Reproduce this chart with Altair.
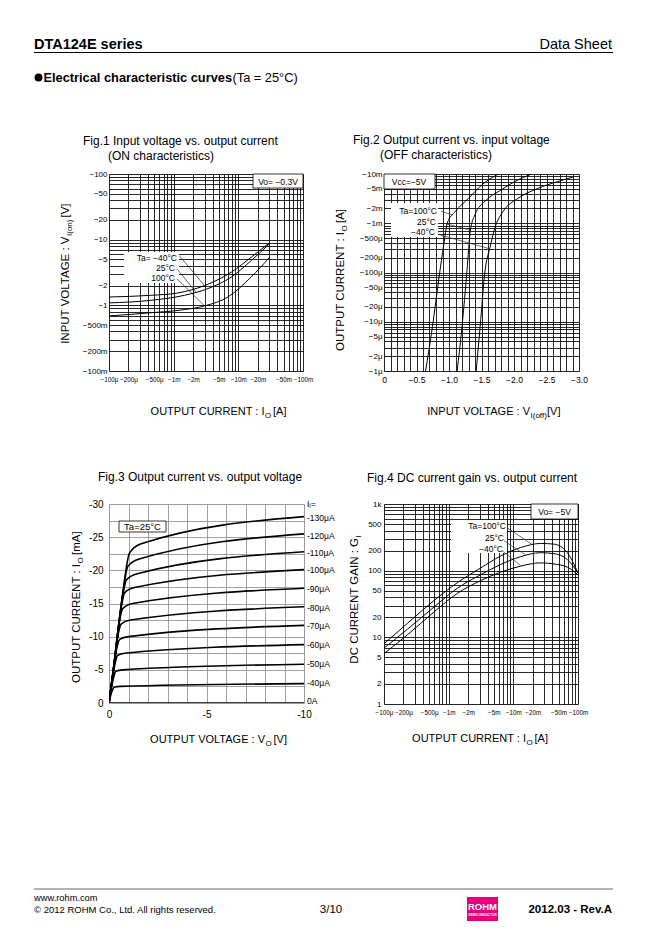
import altair as alt
import pandas as pd

FONT = "Liberation Sans, Arial, Helvetica, sans-serif"
NARROW = "Liberation Sans Narrow, Liberation Sans, Arial, sans-serif"

# ---------------- data (magnitudes; the sheet shows them as negative) ----------------
# Fig.1  |Vi(on)| [V] vs |Io| [A]
f1_I_m40 = [1e-4, 4.4e-4, 1.15e-3, 3.0e-3, 7.8e-3, 1.58e-2, 3.05e-2]
f1_V_m40 = [1.34, 1.42, 1.54, 2.0, 3.2, 5.4, 9.0]
f1_I_25 = [1e-4, 4.4e-4, 1.46e-3, 3.4e-3, 7.8e-3, 1.58e-2, 3.05e-2]
f1_V_25 = [1.09, 1.19, 1.42, 1.8, 2.7, 4.8, 8.7]
f1_I_100 = [1e-4, 4.4e-4, 1.46e-3, 3.0e-3, 6.9e-3, 1.58e-2, 3.05e-2]
f1_V_100 = [0.69, 0.77, 0.86, 0.98, 1.34, 2.7, 5.4]

# Fig.2  |Io| [A] vs |Vi(off)| [V]
f2_V_100 = [0.64, 0.745, 0.846, 0.92, 0.973, 1.10, 1.30, 1.505, 1.758]
f2_I_100 = [1e-6, 7.9e-6, 7.9e-5, 3.7e-4, 1.0e-3, 1.75e-3, 3.2e-3, 6.0e-3, 1e-2]
f2_V_25 = [1.125, 1.20, 1.277, 1.327, 1.40, 1.555, 1.808, 2.01, 2.275]
f2_I_25 = [1e-6, 7.9e-6, 1.1e-4, 6.9e-4, 1.5e-3, 2.8e-3, 4.8e-3, 7.0e-3, 1e-2]
f2_V_m40 = [1.418, 1.479, 1.555, 1.63, 1.707, 1.834, 2.062, 2.366, 2.67, 2.922]
f2_I_m40 = [1e-6, 7.9e-6, 1.1e-4, 3.2e-4, 8.1e-4, 1.75e-3, 3.2e-3, 5.1e-3, 7.0e-3, 8.8e-3]

# Fig.3  |Io| [mA] vs |Vo| [V] for base currents
f3_ib = ["-40μA", "-50μA", "-60μA", "-70μA", "-80μA", "-90μA", "-100μA", "-110μA", "-120μA", "-130μA"]
f3_V = [
    [0, 0.1, 0.2, 0.3, 0.6, 10],
    [0, 0.12, 0.25, 0.35, 0.7, 10],
    [0, 0.15, 0.3, 0.45, 0.8, 10],
    [0, 0.18, 0.37, 0.55, 1.0, 10],
    [0, 0.2, 0.42, 0.62, 1.1, 10],
    [0, 0.22, 0.48, 0.7, 1.2, 10],
    [0, 0.25, 0.55, 0.8, 1.3, 10],
    [0, 0.27, 0.6, 0.9, 1.45, 10],
    [0, 0.3, 0.65, 0.97, 1.55, 10],
    [0, 0.32, 0.7, 1.05, 1.65, 10],
]
f3_I = [
    [0, 1.3, 2.1, 2.4, 2.5, 2.92],
    [0, 2.2, 4.0, 4.8, 5.0, 5.85],
    [0, 3.0, 5.8, 7.2, 7.5, 8.8],
    [0, 3.9, 7.8, 9.6, 10.0, 11.7],
    [0, 4.5, 9.5, 11.9, 12.5, 14.5],
    [0, 5.0, 11.3, 14.2, 15.0, 17.3],
    [0, 5.6, 12.9, 16.6, 17.4, 20.1],
    [0, 6.0, 14.2, 18.6, 19.5, 22.8],
    [0, 6.6, 15.3, 20.6, 21.7, 25.5],
    [0, 7.1, 16.4, 22.6, 24.0, 28.1],
]
f3_zero_V = [0, 10]
f3_zero_I = [0, 0]

# Fig.4  DC current gain vs |Io| [A]
f4_I = [1e-4, 2.3e-4, 5.93e-4, 1.36e-3, 3.13e-3, 6.37e-3, 1.30e-2, 2.65e-2, 4.26e-2, 6.84e-2, 0.1]
f4_G_100 = [8.0, 16.2, 35.6, 66, 110, 166, 222, 256, 250, 186, 92]
f4_G_25 = [6.9, 13.2, 28.5, 54.5, 87, 124, 162, 186, 180, 147, 92]
f4_G_m40 = [5.7, 10.9, 24, 45.6, 71, 95, 117, 131, 126, 113, 87]

# tick labels
lab_cur_x = ["−100μ", "−200μ", "−500μ", "−1m", "−2m", "−5m", "−10m", "−20m", "−50m", "−100m"]
lab_cur_x_v = ["1e-4", "2e-4", "5e-4", "1e-3", "2e-3", "5e-3", "1e-2", "2e-2", "5e-2", "1e-1"]
lab_f1_y = ["−100m", "−200m", "−500m", "−1", "−2", "−5", "−10", "−20", "−50", "−100"]
lab_f1_y_v = ["1e-1", "2e-1", "5e-1", "1e0", "2e0", "5e0", "1e1", "2e1", "5e1", "1e2"]
lab_f2_y = ["−1μ", "−2μ", "−5μ", "−10μ", "−20μ", "−50μ", "−100μ", "−200μ", "−500μ", "−1m", "−2m", "−5m", "−10m"]
lab_f2_y_v = ["1e-6", "2e-6", "5e-6", "1e-5", "2e-5", "5e-5", "1e-4", "2e-4", "5e-4", "1e-3", "2e-3", "5e-3", "1e-2"]
lab_f2_x = ["0", "−0.5", "−1.0", "−1.5", "−2.0", "−2.5", "−3.0"]
lab_f2_x_v = [0.0, 0.5, 1.0, 1.5, 2.0, 2.5, 3.0]
lab_f3_x = ["0", "-5", "-10"]
lab_f3_x_v = [0, 5, 10]
lab_f3_y = ["0", "-5", "-10", "-15", "-20", "-25", "-30"]
lab_f3_y_v = [0, 5, 10, 15, 20, 25, 30]
lab_f4_y = ["1", "2", "5", "10", "20", "50", "100", "200", "500", "1k"]
lab_f4_y_v = ["1e0", "2e0", "5e0", "1e1", "2e1", "5e1", "1e2", "2e2", "5e2", "1e3"]
f3_right = ["Iᵢ=", "-130μA", "-120μA", "-110μA", "-100μA", "-90μA", "-80μA", "-70μA", "-60μA", "-50μA", "-40μA", "0A"]

# ---------------- layout (page pixels) ----------------
C1 = (108, 173); C2 = (383, 173); C3 = (108, 503); C4 = (383, 503)
TT = 11      # horizontal axis-title size
TY = 11.5    # vertical axis-title size
TS = 8       # subscript size


def one():
    return alt.Chart(pd.DataFrame({"k": [0]}))


def txt(o, s, px, py, size=10, weight="normal", align="left", baseline="alphabetic",
        angle=0, font=FONT, color="black"):
    kw = dict(text=s, fontSize=size, fontWeight=weight, align=align, baseline=baseline,
              font=font, color=color)
    if angle:
        kw["angle"] = angle
    return one().mark_text(**kw).encode(x=alt.value(px - o[0]), y=alt.value(py - o[1]))


def box(o, x1, y1, x2, y2, fill="white", stroke=None, sw=0.8):
    kw = dict(fill=fill)
    if stroke:
        kw.update(stroke=stroke, strokeWidth=sw)
    return one().mark_rect(**kw).encode(x=alt.value(x1 - o[0]), x2=alt.value(x2 - o[0]),
                                        y=alt.value(y1 - o[1]), y2=alt.value(y2 - o[1]))


def dot(o, px, py, area):
    return one().mark_circle(size=area, color="black", opacity=1).encode(
        x=alt.value(px - o[0]), y=alt.value(py - o[1]))


def hline(o, x1, x2, py, color="black", sw=1.0):
    return one().mark_rule(color=color, strokeWidth=sw).encode(
        x=alt.value(x1 - o[0]), x2=alt.value(x2 - o[0]), y=alt.value(py - o[1]))


def log_grid(lo, hi):
    vals = []
    for k in range(lo, hi):
        for m in range(1, 10):
            vals.append(float(f"{m}e{k}"))
    vals.append(float(f"1e{hi}"))
    return vals


def lbl_expr(vals, labs):
    e = "''"
    for v, s in reversed(list(zip(vals, labs))):
        e = f"datum.value == {repr(float(v))} ? '{s}' : {e}"
    return e


def axis(values, lvals, labs, size, font, pad, gcol, gw, orient):
    return alt.Axis(values=values, labelExpr=lbl_expr(lvals, labs), ticks=False, domain=False,
                    grid=True, gridColor=gcol, gridWidth=gw, gridOpacity=1, labelFontSize=size,
                    labelFont=font, labelColor="black", labelPadding=pad, labelOverlap=False,
                    labelFlush=False, labelBound=False, title=None, orient=orient)


def curves_df(series):
    rows = []
    for name, xs, ys in series:
        for a, b in zip(xs, ys):
            rows.append({"x": a, "y": b, "s": name})
    return pd.DataFrame(rows)


def leaders_df(segs):
    return pd.DataFrame([{"xa": a, "ya": b, "xb": c, "yb": d} for a, b, c, d in segs])


GRID = "#111111"

# ---------------- Fig.1 ----------------
X1 = dict(scale=alt.Scale(type="log", domain=[1e-4, 1e-1], nice=False),
          axis=axis(log_grid(-4, -1), lab_cur_x_v, lab_cur_x, 6.3, NARROW, 5, GRID, 0.9, "bottom"),
          title=None)
Y1 = dict(scale=alt.Scale(type="log", domain=[0.1, 100], nice=False),
          axis=axis(log_grid(-1, 2), lab_f1_y_v, lab_f1_y, 8, FONT, 2, GRID, 0.9, "left"),
          title=None)
df1 = curves_df([("m40", f1_I_m40, f1_V_m40), ("25", f1_I_25, f1_V_25), ("100", f1_I_100, f1_V_100)])
lead1 = leaders_df([(1.22e-3, 5.7, 3.0e-3, 2.0), (1.12e-3, 3.6, 2.2e-3, 1.6), (1.12e-3, 2.55, 3.0e-3, 0.98)])

fig1 = alt.layer(
    alt.Chart(df1).mark_line(color="black", strokeWidth=1, interpolate="monotone", clip=True).encode(
        x=alt.X("x:Q", **X1), y=alt.Y("y:Q", **Y1), detail="s:N"),
    box(C1, 123, 251, 178, 282),
    box(C1, 252, 173, 302, 187, stroke="black", sw=0.8),
    alt.Chart(lead1).mark_rule(color="#222", strokeWidth=0.7).encode(
        x=alt.X("xa:Q", **X1), x2="xb:Q", y=alt.Y("ya:Q", **Y1), y2="yb:Q"),
    txt(C1, "Ta= −40°C", 176, 257, 8.5, align="right", baseline="middle"),
    txt(C1, "25°C", 174, 267, 8.5, align="right", baseline="middle"),
    txt(C1, "100°C", 174, 277, 8.5, align="right", baseline="middle"),
    txt(C1, "Vo= −0.3V", 277, 180.5, 8.5, align="center", baseline="middle"),
    # figure titles
    txt(C1, "Fig.1 Input voltage vs. output current", 82, 144, 12),
    txt(C1, "(ON characteristics)", 107, 159, 12),
    # axis titles
    txt(C1, "OUTPUT CURRENT : I", 263.5, 414, TT, align="right"),
    txt(C1, "O", 264, 417, TS),
    txt(C1, "[A]", 272, 414, TT),
    txt(C1, "INPUT VOLTAGE : V", 68, 235.5, TY, align="right", angle=270),
    txt(C1, "I(on)", 71, 235, TS, align="left", angle=270),
    txt(C1, "[V]", 68, 216.5, TY, align="left", angle=270),
    # ---- page header ----
    box(C1, 8, 8, 9, 9),
    txt(C1, "DTA124E series", 33, 48, 14.5, weight="bold"),
    txt(C1, "Data Sheet", 611, 48, 14.5, align="right"),
    hline(C1, 33, 612, 51.5, "black", 1.2),
    dot(C1, 37.5, 76.5, 62),
    txt(C1, "Electrical characteristic curves", 42.5, 81, 12.8, weight="bold"),
    txt(C1, "(Ta = 25°C)", 231.5, 81, 12.8),
    # ---- page footer ----
    hline(C1, 33, 612, 888, "#666666", 1.0),
    txt(C1, "www.rohm.com", 33, 900, 9.3),
    txt(C1, "© 2012  ROHM Co., Ltd. All rights reserved.", 33, 912, 9.5),
    txt(C1, "3/10", 330, 912, 11.5, align="center"),
    box(C1, 466, 896, 497, 920, fill="#e4007f"),
    txt(C1, "ROHM", 481.5, 909, 9.5, weight="bold", align="center", color="white"),
    txt(C1, "SEMICONDUCTOR", 481.5, 914.5, 3.2, weight="bold", align="center", color="white"),
    txt(C1, "2012.03 -  Rev.A", 611, 912, 11.5, weight="bold", align="right"),
).properties(width=194, height=197)

# ---------------- Fig.2 ----------------
X2 = dict(scale=alt.Scale(type="linear", domain=[0, 3], nice=False, zero=False),
          axis=axis([round(i * 0.1, 1) for i in range(31)], lab_f2_x_v, lab_f2_x, 8.5, FONT, 4, GRID, 0.9, "bottom"),
          title=None)
Y2 = dict(scale=alt.Scale(type="log", domain=[1e-6, 1e-2], nice=False),
          axis=axis(log_grid(-6, -2), lab_f2_y_v, lab_f2_y, 8, FONT, 2, GRID, 0.9, "left"),
          title=None)
df2 = curves_df([("100", f2_V_100, f2_I_100), ("25", f2_V_25, f2_I_25), ("m40", f2_V_m40, f2_I_m40)])
lead2 = leaders_df([(0.88, 1.75e-3, 1.06, 1.46e-3), (0.92, 1.0e-3, 1.32, 7.3e-4), (0.86, 5.8e-4, 1.6, 3.1e-4)])

fig2 = alt.layer(
    alt.Chart(df2).mark_line(color="black", strokeWidth=1, interpolate="monotone", clip=True).encode(
        x=alt.X("x:Q", **X2), y=alt.Y("y:Q", **Y2), detail="s:N"),
    box(C2, 390, 202, 437, 236),
    box(C2, 383, 173, 434, 188, stroke="black", sw=0.8),
    alt.Chart(lead2).mark_rule(color="#333", strokeWidth=0.7).encode(
        x=alt.X("xa:Q", **X2), x2="xb:Q", y=alt.Y("ya:Q", **Y2), y2="yb:Q"),
    txt(C2, "Ta=100°C", 436, 210, 8.5, align="right", baseline="middle"),
    txt(C2, "25°C", 435, 221, 8.5, align="right", baseline="middle"),
    txt(C2, "−40°C", 434, 231, 8.5, align="right", baseline="middle"),
    txt(C2, "Vcc=−5V", 408, 180.5, 8.5, align="center", baseline="middle"),
    txt(C2, "Fig.2 Output current vs. input voltage", 352, 143, 12),
    txt(C2, "(OFF characteristics)", 379, 158, 12),
    txt(C2, "INPUT VOLTAGE : V", 529, 414, TT, align="right"),
    txt(C2, "I(off)", 529.5, 417, TS),
    txt(C2, "[V]", 546, 414, TT),
    txt(C2, "OUTPUT CURRENT : I", 343, 231, TY, align="right", angle=270),
    txt(C2, "O", 346, 230.5, TS, align="left", angle=270),
    txt(C2, "[A]", 343, 222, TY, align="left", angle=270),
).properties(width=195, height=197)

# ---------------- Fig.3 ----------------
G3 = "#8a8a8a"
X3 = dict(scale=alt.Scale(type="linear", domain=[0, 10], nice=False, zero=False),
          axis=axis(list(range(11)), lab_f3_x_v, lab_f3_x, 10, FONT, 6, G3, 0.8, "bottom"),
          title=None)
Y3 = dict(scale=alt.Scale(type="linear", domain=[0, 30], nice=False, zero=False),
          axis=axis([i * 2.5 for i in range(13)], lab_f3_y_v, lab_f3_y, 10, FONT, 6, G3, 0.8, "left"),
          title=None)
df3 = curves_df([(n, v, i) for n, v, i in zip(f3_ib, f3_V, f3_I)] + [("0A", f3_zero_V, f3_zero_I)])
right_y = [502.5, 516.5, 534.5, 551.5, 569, 587.5, 606.5, 624.5, 643.5, 663, 681.5, 700]
fig3_layers = [
    alt.Chart(df3).mark_line(color="black", strokeWidth=1.6, interpolate="monotone", clip=True).encode(
        x=alt.X("x:Q", **X3), y=alt.Y("y:Q", **Y3), detail="s:N"),
    box(C3, 118, 520, 165, 531, stroke="black", sw=0.8),
    txt(C3, "Ta=25°C", 141.5, 525.8, 9.5, align="center", baseline="middle"),
    txt(C3, "Fig.3 Output current  vs. output voltage", 97, 480, 12),
    txt(C3, "OUTPUT VOLTAGE : V", 264, 742, TT, align="right"),
    txt(C3, "O", 264.5, 745, TS),
    txt(C3, "[V]", 272.5, 742, TT),
    txt(C3, "OUTPUT CURRENT : I", 79, 563, TY, align="right", angle=270),
    txt(C3, "O", 82, 562.5, TS, align="left", angle=270),
    txt(C3, "[mA]", 79, 554, TY, align="left", angle=270),
]
for s, yy in zip(f3_right, right_y):
    fig3_layers.append(txt(C3, s, 306, yy, 8.5, baseline="middle"))
fig3 = alt.layer(*fig3_layers).properties(width=195, height=199)

# ---------------- Fig.4 ----------------
X4 = dict(scale=alt.Scale(type="log", domain=[1e-4, 1e-1], nice=False),
          axis=axis(log_grid(-4, -1), lab_cur_x_v, lab_cur_x, 6.3, NARROW, 5, GRID, 0.9, "bottom"),
          title=None)
Y4 = dict(scale=alt.Scale(type="log", domain=[1, 1000], nice=False),
          axis=axis(log_grid(0, 3), lab_f4_y_v, lab_f4_y, 8, FONT, 3, GRID, 0.9, "left"),
          title=None)
df4 = curves_df([("100", f4_I, f4_G_100), ("25", f4_I, f4_G_25), ("m40", f4_I, f4_G_m40)])
lead4 = leaders_df([(8.07e-3, 440, 1.97e-2, 245), (7.18e-3, 281, 1.55e-2, 172), (6.76e-3, 198, 1.30e-2, 119)])

fig4 = alt.layer(
    alt.Chart(df4).mark_line(color="black", strokeWidth=1, interpolate="monotone", clip=True).encode(
        x=alt.X("x:Q", **X4), y=alt.Y("y:Q", **Y4), detail="s:N"),
    box(C4, 450, 519, 506, 552),
    box(C4, 530, 503, 577, 518, stroke="black", sw=0.8),
    alt.Chart(lead4).mark_rule(color="#333", strokeWidth=0.7).encode(
        x=alt.X("xa:Q", **X4), x2="xb:Q", y=alt.Y("ya:Q", **Y4), y2="yb:Q"),
    txt(C4, "Ta=100°C", 505, 525, 8.5, align="right", baseline="middle"),
    txt(C4, "25°C", 503, 537, 8.5, align="right", baseline="middle"),
    txt(C4, "−40°C", 502, 548, 8.5, align="right", baseline="middle"),
    txt(C4, "Vo= −5V", 553.5, 510.5, 8.5, align="center", baseline="middle"),
    txt(C4, "Fig.4 DC current gain vs. output current", 366, 481, 12),
    txt(C4, "OUTPUT CURRENT : I", 525, 741, TT, align="right"),
    txt(C4, "O", 525.5, 744, TS),
    txt(C4, "[A]", 533.5, 741, TT),
    txt(C4, "DC CURRENT GAIN : G", 357, 537, TY, align="right", angle=270),
    txt(C4, "I", 360, 536.5, TS, align="left", angle=270),
).properties(width=194, height=200)

chart = alt.concat(fig1, fig2, fig3, fig4, columns=2, spacing={"row": 133, "column": 80},
                   bounds="flush").properties(padding=0).configure_view(
    stroke="black", strokeWidth=1).configure(font=FONT)

chart.save("out.html", embed_options={"renderer": "svg", "actions": False})
